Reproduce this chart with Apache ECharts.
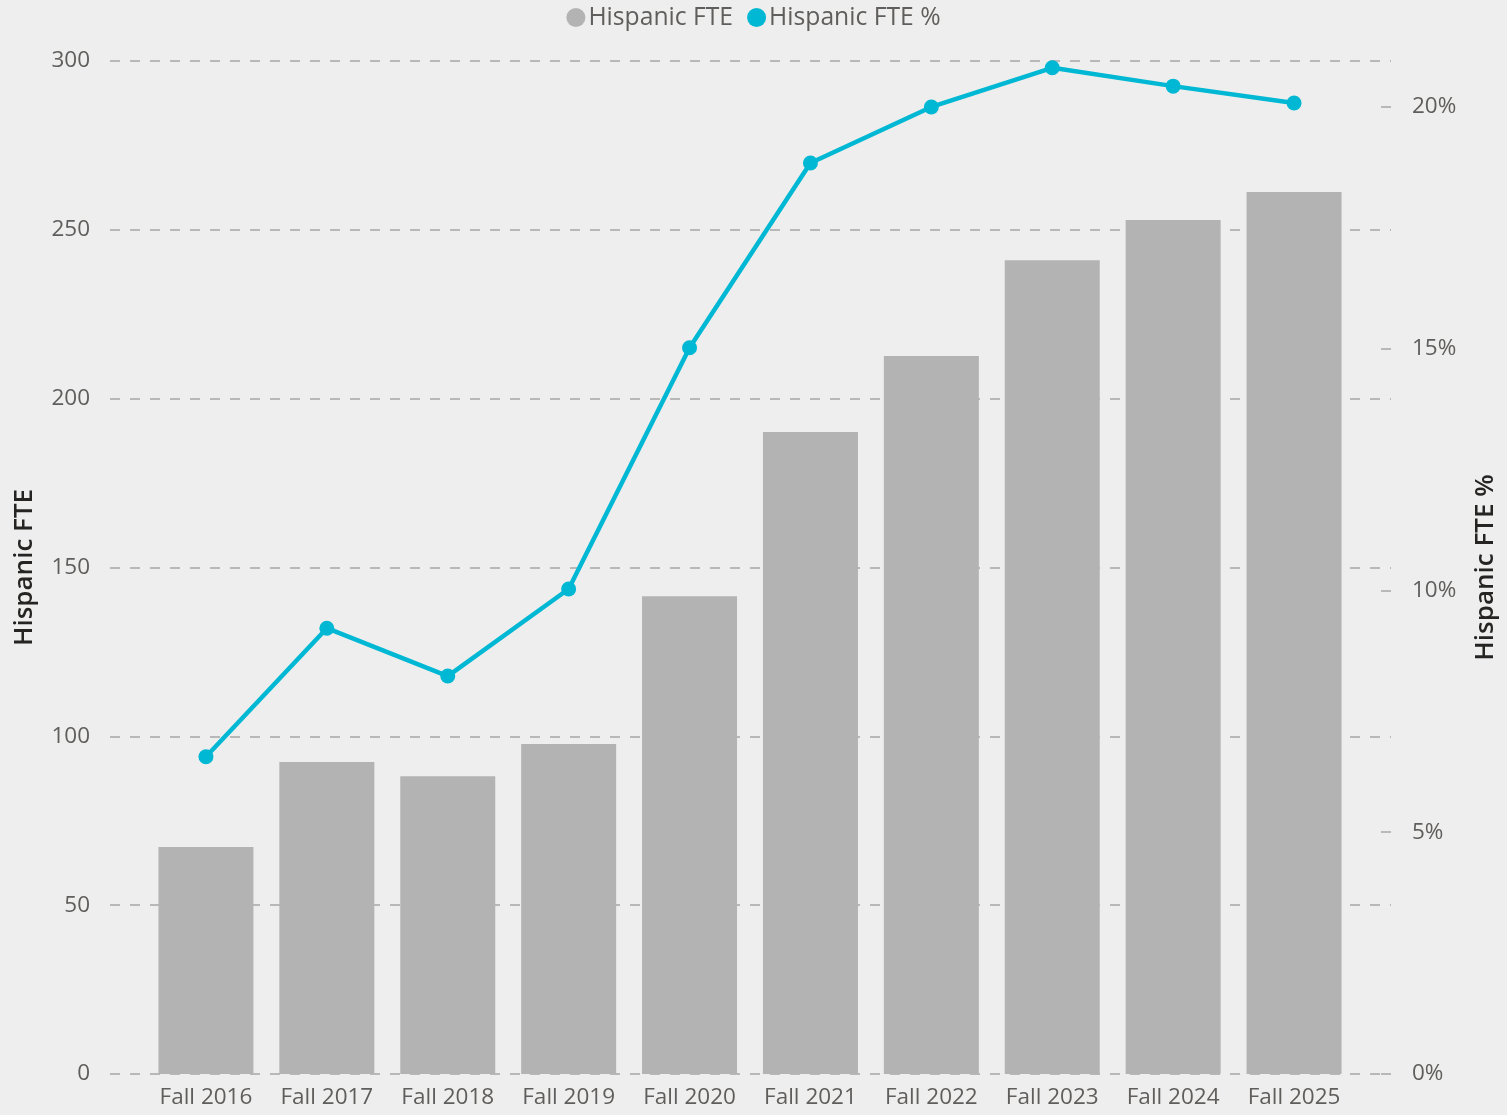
<!DOCTYPE html>
<html><head><meta charset="utf-8">
<script src="https://cdn.jsdelivr.net/npm/echarts@6/dist/echarts.min.js"></script>
<style>html,body{margin:0;padding:0;background:#EDEEED;}#c{width:1507px;height:1115px;}</style>
</head><body><div id="c"></div>
<script>
const categories = ['Fall 2016','Fall 2017','Fall 2018','Fall 2019','Fall 2020','Fall 2021','Fall 2022','Fall 2023','Fall 2024','Fall 2025'];
const hispanicFTE = [67.2, 92.4, 88.2, 97.7, 141.5, 190.1, 212.6, 241.0, 252.9, 261.2];
const hispanicPct = [6.56, 9.22, 8.23, 10.03, 15.02, 18.84, 20.0, 20.81, 20.43, 20.08];
const leftTicks = [0, 50, 100, 150, 200, 250, 300];
const rightTicks = [0, 5, 10, 15, 20];
const leftMax = 300, rightMax = 20.95;

const font = '"Open Sans", "Noto Sans", sans-serif';
const chart = echarts.init(document.getElementById('c'), null, {renderer:'canvas'});
const gridTop = 61, gridBottom = 41;
chart.setOption({
  backgroundColor: '#EDEEED',
  textStyle: {fontFamily: font},
  legend: {
    top: 0, left: 'center', itemGap: 14, itemWidth: 19, itemHeight: 19,
    icon: 'circle',
    textStyle: {fontFamily: font, fontSize: 24.7, color: '#605E5C', padding: [0,0,0,-2]},
    data: ['Hispanic FTE', 'Hispanic FTE %']
  },
  grid: [
    {left: 145.5, right: 152.5, top: gridTop, bottom: gridBottom},
    {left: 110, right: 115, top: gridTop, bottom: gridBottom}
  ],
  xAxis: [
    {type: 'category', gridIndex: 0, data: categories,
     axisLine: {show: false}, axisTick: {show: false},
     axisLabel: {fontFamily: font, fontSize: 22.5, color: '#605E5C', margin: 12}},
    {type: 'value', gridIndex: 1, show: false, min: 0, max: 1}
  ],
  yAxis: [
    {type: 'value', gridIndex: 0, min: 0, max: leftMax, interval: 50, show: false},
    {type: 'value', gridIndex: 0, min: 0, max: rightMax, show: false, position: 'right'},
    {type: 'value', gridIndex: 1, min: 0, max: leftMax, interval: 50, position: 'left',
     axisLine: {show: false}, axisTick: {show: false},
     splitLine: {show: true, lineStyle: {color: '#B8B8B8', width: 2, type: [10, 10]}},
     axisLabel: {fontFamily: font, fontSize: 22.5, color: '#605E5C', margin: 20,
       formatter: v => leftTicks.includes(v) ? String(v) : ''},
     name: 'Hispanic FTE', nameLocation: 'middle', nameGap: 72, nameRotate: 90,
     nameTextStyle: {fontFamily: font, fontSize: 26, fontWeight: 600, color: '#252423'}},
    {type: 'value', gridIndex: 1, min: 0, max: rightMax, interval: 5, position: 'right',
     axisLine: {show: false},
     axisTick: {show: true, inside: true, length: 10, lineStyle: {color: '#B8B8B8', width: 2}},
     splitLine: {show: false},
     axisLabel: {fontFamily: font, fontSize: 22.5, color: '#605E5C', margin: 21, showMaxLabel: false,
       formatter: v => rightTicks.includes(v) ? v + '%' : ''},
     name: 'Hispanic FTE %', nameLocation: 'middle', nameGap: 82, nameRotate: 90,
     nameTextStyle: {fontFamily: font, fontSize: 26, fontWeight: 600, color: '#252423'}}
  ],
  series: [
    {name: 'Hispanic FTE', type: 'bar', xAxisIndex: 0, yAxisIndex: 0, data: hispanicFTE,
     barWidth: 95, itemStyle: {color: '#B3B3B3'}, z: 2},
    {name: 'Hispanic FTE %', type: 'line', xAxisIndex: 0, yAxisIndex: 1, data: hispanicPct,
     symbol: 'circle', symbolSize: 15, lineStyle: {color: '#00B8D4', width: 4.5},
     itemStyle: {color: '#00B8D4'}, z: 3}
  ]
});
</script></body></html>
